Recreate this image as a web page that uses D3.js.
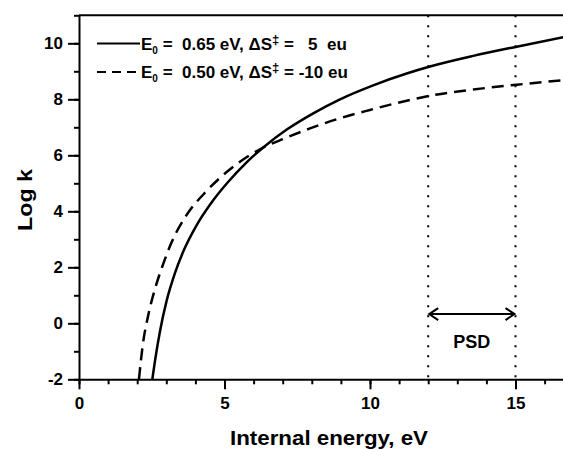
<!DOCTYPE html>
<html>
<head>
<meta charset="utf-8">
<script src="https://cdn.jsdelivr.net/npm/d3@7"></script>
<style>
  body { margin: 0; background: #fff; }
  svg { display: block; }
  text { font-family: Arial, "Liberation Sans", sans-serif; font-weight: bold; fill: #000; }
</style>
</head>
<body>
<div id="chart"></div>
<script>
// values
const solidE = [2.52, 2.61, 2.78, 3.01, 3.30, 3.62, 4.04, 4.58, 5.10, 5.76, 6.33, 7.14, 8.05, 8.97, 10.11, 11.26, 12.06, 13.55, 15.04, 16.8];
const solidLogK = [-2.0, -1.35, -0.3, 0.8, 1.8, 2.65, 3.5, 4.35, 5.02, 5.75, 6.28, 6.92, 7.5, 8.0, 8.5, 8.92, 9.17, 9.55, 9.88, 10.25];
const dashE = [2.06, 2.20, 2.37, 2.60, 2.86, 3.19, 3.70, 4.38, 5.30, 6.28, 7.08, 7.94, 8.9, 10.0, 11.26, 12.18, 13.55, 15.04, 16.8];
const dashLogK = [-2.0, -0.71, 0.24, 1.19, 2.02, 2.91, 3.87, 4.72, 5.59, 6.25, 6.61, 6.96, 7.3, 7.62, 7.95, 8.15, 8.35, 8.52, 8.70];
const xTicks = [0, 5, 10, 15];
const yTicks = [-2, 0, 2, 4, 6, 8, 10];
const psdRange = [12, 15];
const psdLevel = 0.33;
const legendRows = [
    { dash: null, e0: "0.65", ds: "  5  eu" },
    { dash: "9,6", e0: "0.50", ds: "-10 eu" }
];

const width = 563, height = 449;
const left = 79, bottom = 379.3;
const fontFam = "Arial, 'Liberation Sans', sans-serif";

const x = d3.scaleLinear().domain([0, 17]).range([left, left + 17 * 29.1]);
const y = d3.scaleLinear().domain([-2, 11]).range([bottom, bottom - 13 * 28]);

const svg = d3.select("#chart").append("svg")
    .attr("width", width)
    .attr("height", height);

// Axes
const xMinor = d3.range(0, 18, 1);
const yMinor = d3.range(-2, 12, 1);
const fmt = d => String(d);

svg.append("g")
    .attr("transform", "translate(0," + bottom + ")")
    .call(d3.axisBottom(x).tickValues(xMinor).tickSize(5).tickFormat(""))
    .call(g => g.selectAll("line").attr("stroke-width", 2))
    .call(g => g.select(".domain").remove());
const xAxis = svg.append("g")
    .attr("transform", "translate(0," + bottom + ")")
    .call(d3.axisBottom(x).tickValues(xTicks).tickSize(10).tickSizeOuter(0).tickPadding(8).tickFormat(fmt));
xAxis.selectAll("line").attr("stroke-width", 2);
xAxis.select(".domain").attr("stroke-width", 2);
xAxis.selectAll("text").attr("font-size", 17).attr("font-family", fontFam).attr("font-weight", "bold");

svg.append("g")
    .attr("transform", "translate(" + left + ",0)")
    .call(d3.axisLeft(y).tickValues(yMinor).tickSize(5).tickFormat(""))
    .call(g => g.selectAll("line").attr("stroke-width", 2))
    .call(g => g.select(".domain").remove());
const yAxis = svg.append("g")
    .attr("transform", "translate(" + left + ",0)")
    .call(d3.axisLeft(y).tickValues(yTicks).tickSize(11).tickSizeOuter(0).tickPadding(5).tickFormat(fmt));
yAxis.selectAll("line").attr("stroke-width", 2);
yAxis.select(".domain").attr("stroke-width", 2);
yAxis.selectAll("text").attr("font-size", 17).attr("font-family", fontFam).attr("font-weight", "bold");

// top frame
svg.append("line")
    .attr("x1", left).attr("x2", width)
    .attr("y1", y(11)).attr("y2", y(11))
    .attr("stroke", "#000").attr("stroke-width", 2);

// PSD dotted lines
svg.append("g").selectAll("line")
    .data(psdRange)
    .enter()
    .append("line")
    .attr("x1", d => x(d)).attr("x2", d => x(d))
    .attr("y1", y(11)).attr("y2", bottom)
    .attr("stroke", "#000")
    .attr("stroke-width", 2)
    .attr("stroke-dasharray", "2,8");

// Curves
const line = d3.line()
    .x(d => x(d[0]))
    .y(d => y(d[1]))
    .curve(d3.curveMonotoneX);

const plot = svg.append("g");
plot.append("path")
    .attr("d", line(d3.zip(solidE, solidLogK)))
    .attr("fill", "none")
    .attr("stroke", "#000")
    .attr("stroke-width", 2.5);
plot.append("path")
    .attr("d", line(d3.zip(dashE, dashLogK)))
    .attr("fill", "none")
    .attr("stroke", "#000")
    .attr("stroke-width", 2.5)
    .attr("stroke-dasharray", "12,7");

// PSD arrow
const ay = y(psdLevel);
const ax1 = x(psdRange[0]), ax2 = x(psdRange[1]);
svg.append("line")
    .attr("x1", ax1 + 1).attr("x2", ax2 - 1)
    .attr("y1", ay).attr("y2", ay)
    .attr("stroke", "#000").attr("stroke-width", 2);
svg.append("path")
    .attr("d", "M" + (ax1 + 10) + "," + (ay - 6) + "L" + (ax1 + 1) + "," + ay + "L" + (ax1 + 10) + "," + (ay + 6))
    .attr("fill", "none").attr("stroke", "#000").attr("stroke-width", 2);
svg.append("path")
    .attr("d", "M" + (ax2 - 10) + "," + (ay - 6) + "L" + (ax2 - 1) + "," + ay + "L" + (ax2 - 10) + "," + (ay + 6))
    .attr("fill", "none").attr("stroke", "#000").attr("stroke-width", 2);
svg.append("text")
    .attr("x", (ax1 + ax2) / 2)
    .attr("y", ay + 34)
    .attr("text-anchor", "middle")
    .attr("font-size", 18)
    .text("PSD");

// Legend
const legend = svg.append("g");
legendRows.forEach(function (r, i) {
    const ly = 43.5 + i * 28.5;
    legend.append("line")
        .attr("x1", 97).attr("x2", 140)
        .attr("y1", ly).attr("y2", ly)
        .attr("stroke", "#000")
        .attr("stroke-width", 2)
        .attr("stroke-dasharray", r.dash);
    const t = legend.append("text")
        .attr("x", 141)
        .attr("y", ly + 6)
        .attr("font-size", 17)
        .attr("xml:space", "preserve")
        .style("white-space", "pre");
    t.append("tspan").text("E");
    t.append("tspan").attr("font-size", 10).attr("dy", 4).text("0");
    t.append("tspan").attr("dy", -4).text(" =  " + r.e0 + " eV, \u0394S");
    t.append("tspan").attr("font-size", 13).attr("dy", -6).text("\u2021");
    t.append("tspan").attr("dy", 6).text(" = " + r.ds);
});

// Axis titles
svg.append("text")
    .attr("x", 329)
    .attr("y", 445)
    .attr("text-anchor", "middle")
    .attr("font-size", 21)
    .attr("textLength", 198)
    .attr("lengthAdjust", "spacingAndGlyphs")
    .text("Internal energy, eV");
svg.append("text")
    .attr("transform", "translate(32,200) rotate(-90)")
    .attr("text-anchor", "middle")
    .attr("font-size", 21)
    .attr("textLength", 62)
    .attr("lengthAdjust", "spacingAndGlyphs")
    .text("Log k");
</script>
</body>
</html>
